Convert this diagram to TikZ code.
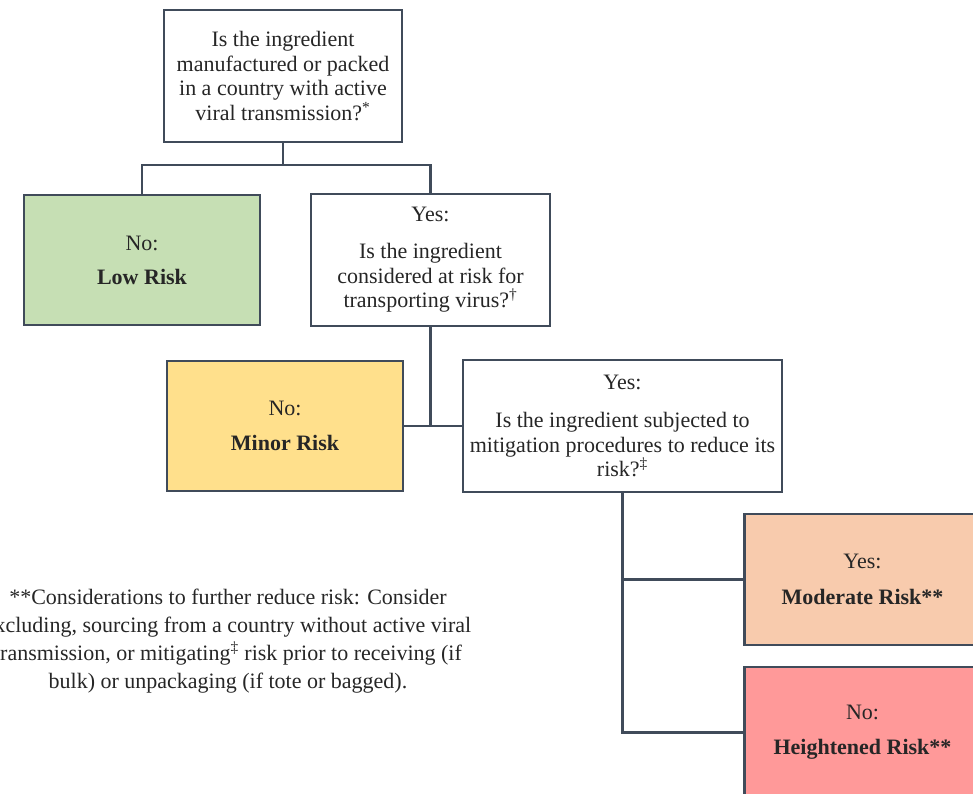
\documentclass[tikz,border=0pt]{standalone}
\usepackage{fontspec}
\setmainfont{LiberationSerif}[Extension=.ttf, UprightFont=*-Regular, BoldFont=*-Bold, ItalicFont=*-Italic, BoldItalicFont=*-BoldItalic]
\usetikzlibrary{positioning}

\definecolor{boxline}{HTML}{404B5A}
\definecolor{lowfill}{HTML}{C6DFB4}
\definecolor{minorfill}{HTML}{FFE08C}
\definecolor{modfill}{HTML}{F8CBAD}
\definecolor{highfill}{HTML}{FF9999}

\begin{document}
\begin{tikzpicture}[
    x=0.75pt, y=-0.75pt,
    font=\fontsize{16.5pt}{18.5pt}\selectfont,
    box/.style={rectangle, draw=boxline, line width=1.6pt, fill=white,
                inner sep=2pt, outer sep=0pt, align=center, text=black!85},
    question/.style={box, minimum width=179pt, minimum height=99pt},
    wide/.style={box, minimum width=239pt, minimum height=99pt},
    result/.style={box, minimum width=177pt, minimum height=98pt},
    % Colores por nivel de riesgo
    lowrisk/.style={fill=lowfill},
    minorrisk/.style={fill=minorfill},
    modrisk/.style={fill=modfill},
    highrisk/.style={fill=highfill},
    link/.style={draw=boxline, line width=1.6pt},
    note/.style={align=center, text=black!85, font=\fontsize{16.5pt}{21pt}\selectfont}
]
\useasboundingbox (0,0) rectangle (973,793);

% --- Preguntas ---
\node[question] (country) at (283,76)
    {Is the ingredient\\ manufactured or packed\\ in a country with active\\ viral transmission?\textsuperscript{*}};
\node[question] (transport) at (430.5,260)
    {Yes:\\[9pt] Is the ingredient\\ considered at risk for\\ transporting virus?\textsuperscript{†}};
\node[wide] (mitig) at (622.5,426)
    {Yes:\\[10pt] Is the ingredient subjected to\\ mitigation procedures to reduce its\\ risk?\textsuperscript{‡}};

% --- Resultados ---
\node[result, lowrisk] (low) at (142,260) {No:\\[7pt] \textbf{Low Risk}};
\node[result, minorrisk] (minor) at (285,426) {No:\\[8pt] \textbf{Minor Risk}};
\node[result, modrisk] (moderate) at (862.5,579.5) {Yes:\\[8pt] \textbf{Moderate Risk**}};
\node[result, highrisk] (heightened) at (862.5,732.5) {No:\\[8pt] \textbf{Heightened Risk**}};

% --- Nota ---
\node[note] (remark) at (228,641)
    {**Considerations to further reduce risk: Consider\\
     excluding, sourcing from a country without active viral\\
     transmission, or mitigating\textsuperscript{‡} risk prior to receiving (if\\
     bulk) or unpackaging (if tote or bagged).};

% --- Conectores ---
\coordinate (fork1) at (283,165);
\coordinate (fork2) at (transport.south |- minor.east);

\draw[link] (country) -- (fork1);
\draw[link] (fork1) -| (low);
\draw[link] (fork1) -| (transport);

\draw[link] (transport) -- (fork2);
\draw[link] (minor) -- (mitig);

\draw[link] (mitig.south) |- (heightened.west);
\draw[link] (mitig.south |- moderate.west) -- (moderate.west);

\end{tikzpicture}
\end{document}
